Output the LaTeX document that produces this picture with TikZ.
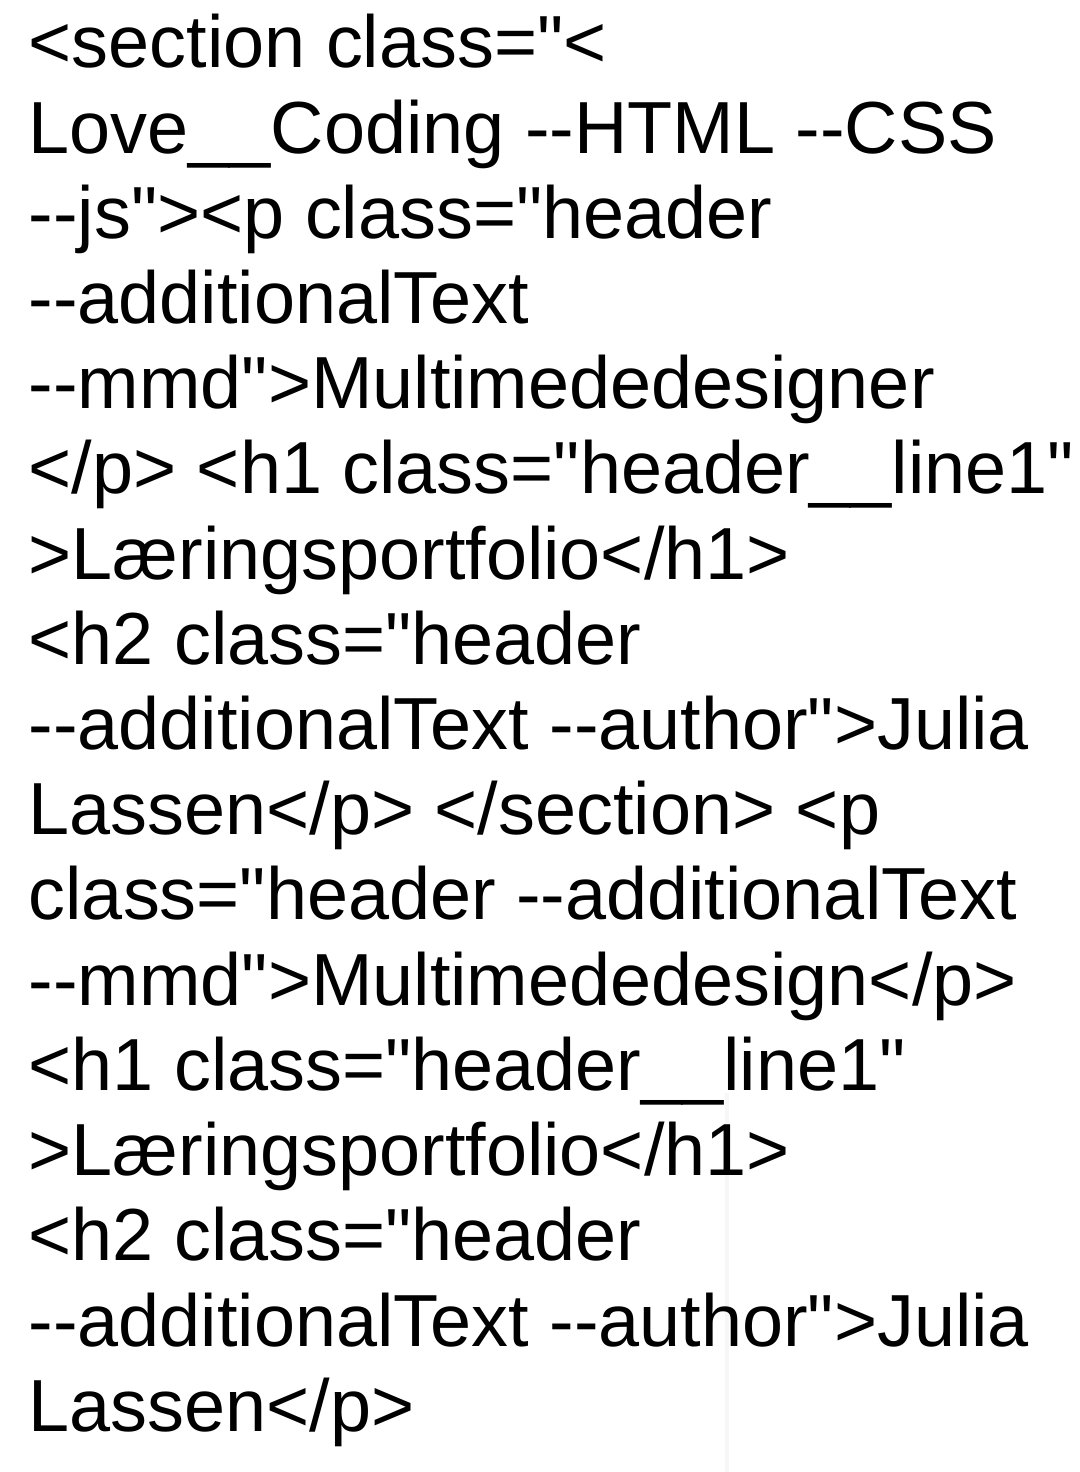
\documentclass[tikz,border=0pt]{standalone}
\usepackage{fontspec}
\setmainfont{Liberation Sans}[Ligatures=TeXOff]
\begin{document}
\begin{tikzpicture}[x=1cm,y=1cm]
  \useasboundingbox (0,0) rectangle (10.8,14.72);
  \tikzset{codeline/.style={anchor=base west,inner sep=0pt,font=\fontsize{21pt}{24pt}\selectfont}}
  % faint cursor line
  \draw[black!3,line width=1.2pt] (7.27,14.72-10.93) -- (7.27,0);
  \foreach \t [count=\i] in
    {<section class="<,
     Love\_\_Coding --HTML --CSS,
     --js"><p class="header,
     --additionalText,
     --mmd">Multimededesigner,
     </p> <h1 class="header\_\_line1",
     >Læringsportfolio</h1>,
     <h2 class="header,
     --additionalText --author">Julia,
     Lassen</p> </section> <p,
     class="header --additionalText,
     --mmd">Multimededesign</p>,
     <h1 class="header\_\_line1",
     >Læringsportfolio</h1>,
     <h2 class="header,
     --additionalText --author">Julia,
     Lassen</p>}
    \node[codeline] (l\i) at (0.28,{14.72-0.68-(\i-1)*0.852}) {\t};
\end{tikzpicture}
\end{document}
